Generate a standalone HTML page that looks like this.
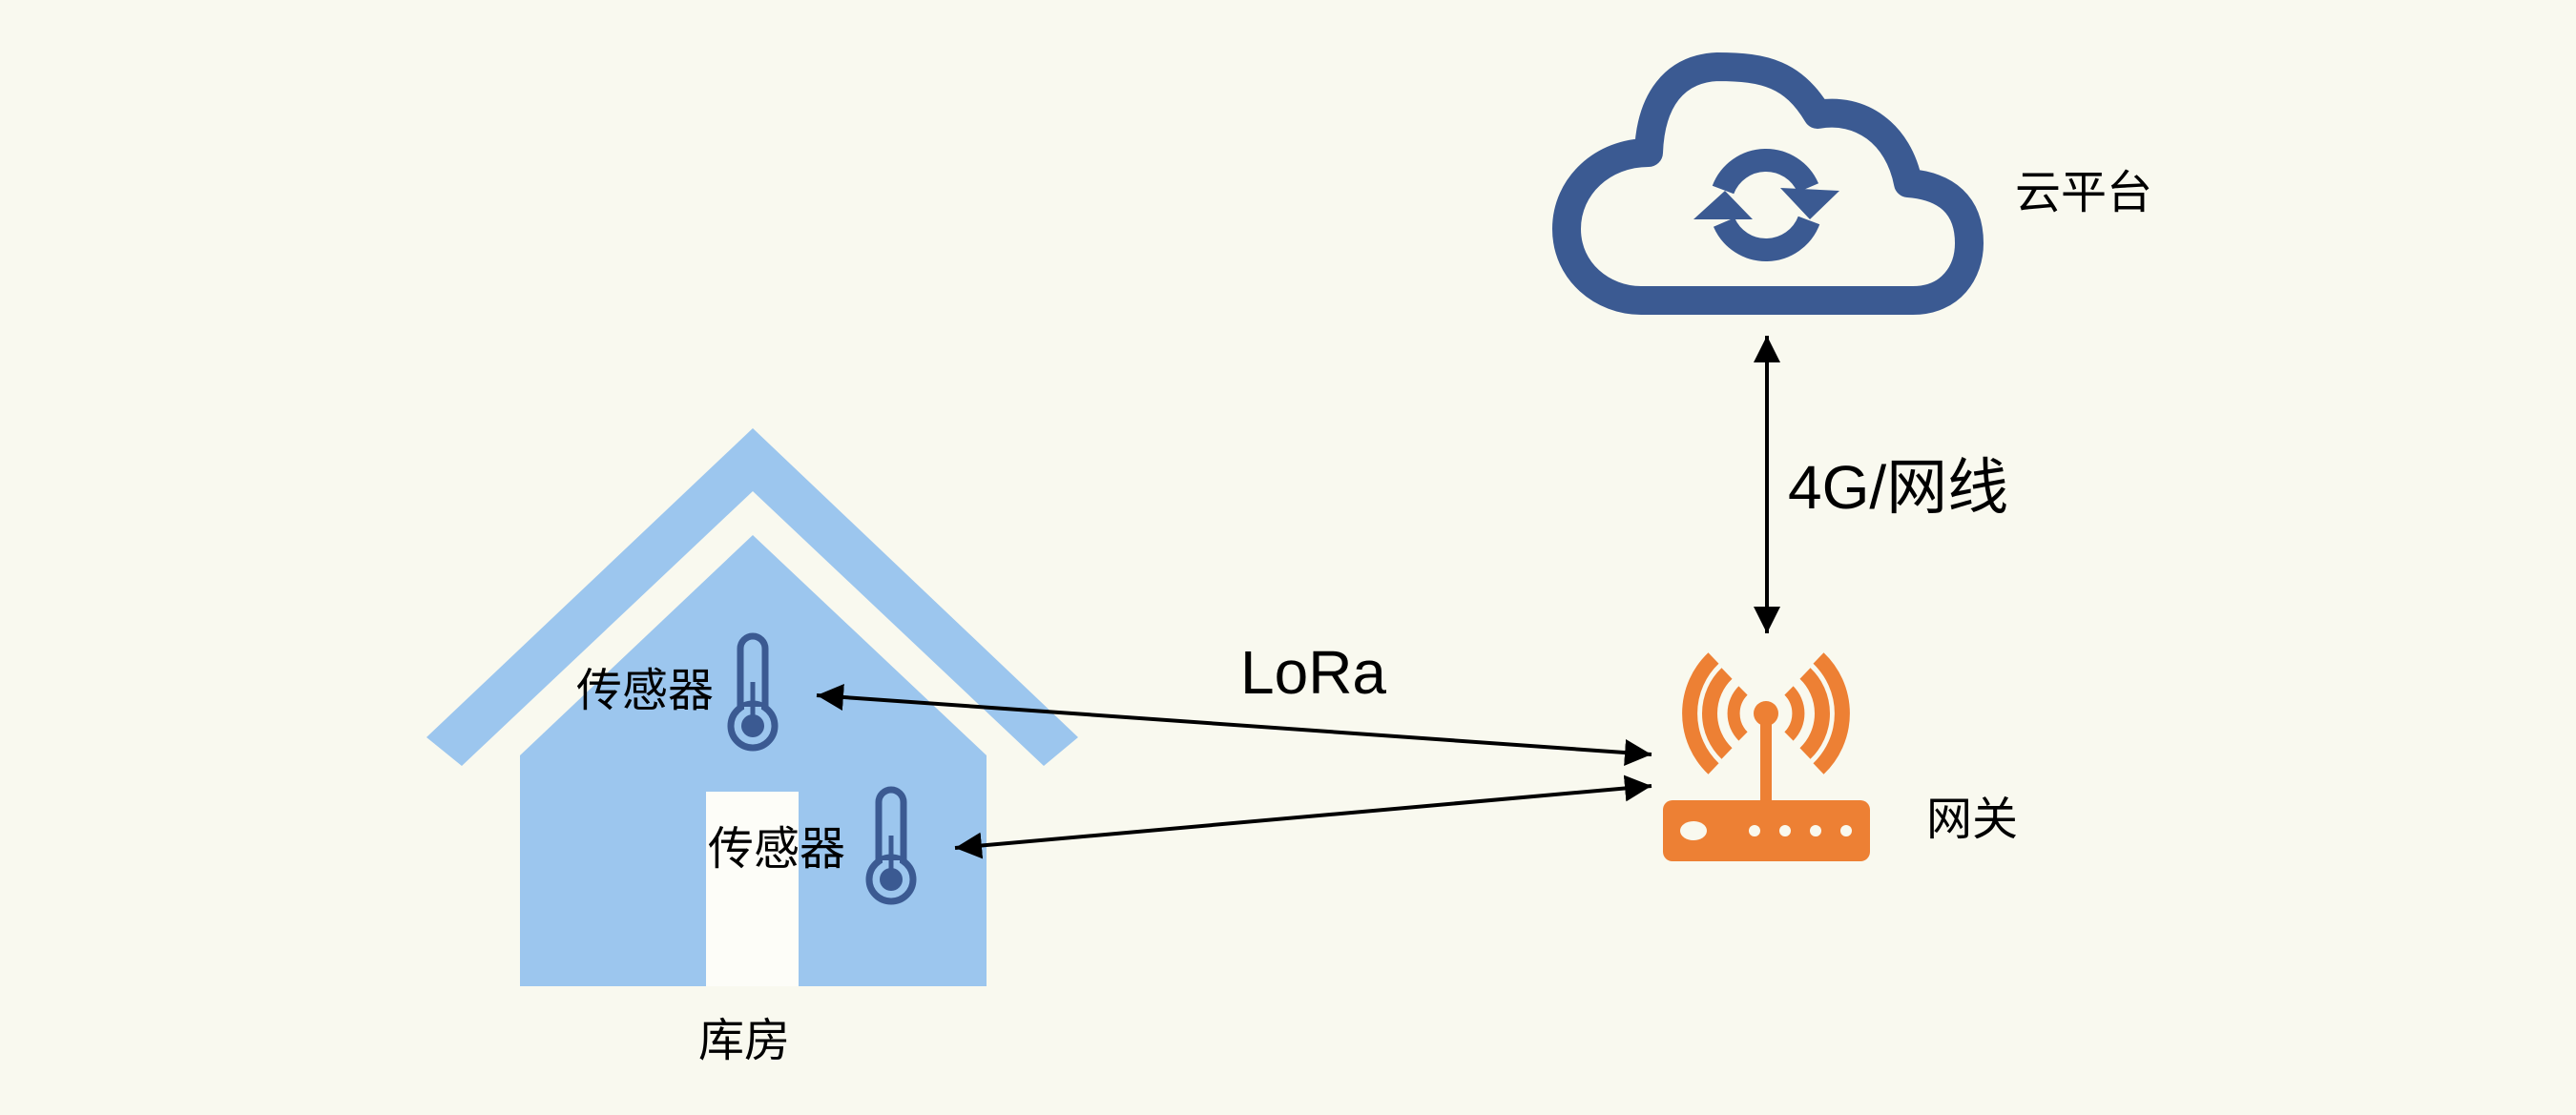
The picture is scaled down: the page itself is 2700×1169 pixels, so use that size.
<!DOCTYPE html>
<html><head><meta charset="utf-8"><style>
html,body{margin:0;padding:0;background:#f9f9ef;}
svg{display:block}
text{font-family:"Liberation Sans","Noto Sans CJK SC",sans-serif;fill:#000}
</style></head><body>
<svg width="2700" height="1169" viewBox="0 0 2700 1169" xmlns="http://www.w3.org/2000/svg">
<rect width="2700" height="1169" fill="#f9f9ef"/>
<defs>
<marker id="ah" markerWidth="28" markerHeight="28" refX="10" refY="5" orient="auto-start-reverse" markerUnits="userSpaceOnUse" viewBox="0 0 10 10">
<path d="M0,0 L10,5 L0,10 Z" fill="#000"/></marker>
<g id="therm">
<rect x="-13" y="-94" width="26" height="86" rx="13" fill="none" stroke="#3b5a92" stroke-width="7"/>
<circle cx="0" cy="0" r="23" fill="#9cc6ee" stroke="#3b5a92" stroke-width="7"/>
<rect x="-9" y="-20" width="18" height="16" fill="#9cc6ee"/>
<circle cx="0" cy="0" r="12" fill="#3b5a92"/>
<rect x="-2.5" y="-46" width="5" height="40" fill="#3b5a92"/>
</g>
</defs>
<!-- house -->
<polygon points="789,449 1130,773 1094,803 789,515 484,803 447,773" fill="#9cc6ee"/>
<polygon points="789,561 1034,792 1034,1034 545,1034 545,792" fill="#9cc6ee"/>
<rect x="740" y="830" width="97" height="204" fill="#fdfdf8"/>
<use href="#therm" x="789" y="761"/>
<use href="#therm" x="934" y="922"/>
<text x="604" y="740" font-size="48">传感器</text>
<text x="742" y="906" font-size="48">传感器</text>
<text x="732" y="1107" font-size="48">库房</text>
<!-- lora arrows -->
<line x1="856" y1="729" x2="1731" y2="791" stroke="#000" stroke-width="4" marker-start="url(#ah)" marker-end="url(#ah)"/>
<line x1="1001" y1="889" x2="1731" y2="824" stroke="#000" stroke-width="4" marker-start="url(#ah)" marker-end="url(#ah)"/>
<text x="1300" y="727" font-size="64">LoRa</text>
<!-- cloud -->
<path d="M1720 315 L2005 315 C2045 315 2064 285 2064 255 C2064 215 2040 195 2000 192 C1990 140 1950 112 1905 120 C1880 78 1850 70 1800 70 C1755 72 1730 105 1728 160 C1680 160 1642 195 1642 240 C1642 285 1680 315 1720 315 Z" fill="none" stroke="#3b5a92" stroke-width="30" stroke-linejoin="round"/>
<path d="M1806 199 A48 48 0 0 1 1895 197" fill="none" stroke="#3b5a92" stroke-width="24"/>
<polygon points="1866,197 1928,200 1897,230" fill="#3b5a92"/>
<path d="M1896 231 A48 48 0 0 1 1807 233" fill="none" stroke="#3b5a92" stroke-width="24"/>
<polygon points="1775,230 1837,230 1808,200" fill="#3b5a92"/>
<text x="2112" y="218" font-size="48">云平台</text>
<!-- vertical arrow -->
<line x1="1852" y1="352" x2="1852" y2="664" stroke="#000" stroke-width="4" marker-start="url(#ah)" marker-end="url(#ah)"/>
<text x="1874" y="533" font-size="64">4G/网线</text>
<!-- gateway -->
<g fill="none" stroke="#ed8034" stroke-linecap="butt">
<path d="M1827 724 A34 34 0 0 0 1827 772" stroke-width="13"/>
<path d="M1875 724 A34 34 0 0 1 1875 772" stroke-width="13"/>
<path d="M1810 706 A58 58 0 0 0 1810 790" stroke-width="16"/>
<path d="M1892 706 A58 58 0 0 1 1892 790" stroke-width="16"/>
<path d="M1796 690 A80 80 0 0 0 1796 806" stroke-width="16"/>
<path d="M1906 690 A80 80 0 0 1 1906 806" stroke-width="16"/>
</g>
<rect x="1845" y="748" width="12" height="95" fill="#ed8034"/>
<circle cx="1851" cy="748" r="13" fill="#ed8034"/>
<rect x="1743" y="839" width="217" height="64" rx="10" fill="#ed8034"/>
<ellipse cx="1775" cy="871" rx="14" ry="10" fill="#f9f9ef"/>
<circle cx="1839" cy="871" r="6" fill="#f9f9ef"/>
<circle cx="1871" cy="871" r="6" fill="#f9f9ef"/>
<circle cx="1903" cy="871" r="6" fill="#f9f9ef"/>
<circle cx="1935" cy="871" r="6" fill="#f9f9ef"/>
<text x="2019" y="875" font-size="48">网关</text>
</svg>
</body></html>
